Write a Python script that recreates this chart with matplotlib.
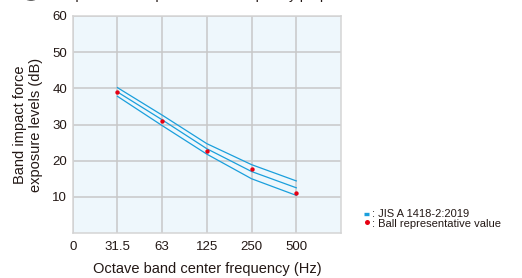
import matplotlib
matplotlib.use('Agg')
import matplotlib.pyplot as plt
from matplotlib.lines import Line2D
from matplotlib.patches import Circle

plt.rcParams['font.family'] = ['Liberation Sans', 'DejaVu Sans']

# data
freq_labels = ['31.5', '63', '125', '250', '500']
jis_upper = [40.2, 32.6, 24.7, 18.9, 14.4]
jis_middle = [39.0, 31.3, 23.3, 17.0, 12.5]
jis_lower = [37.8, 29.7, 21.8, 15.0, 10.4]
ball_values = [39.0, 31.0, 22.8, 17.7, 11.0]
legend_labels = [': JIS A 1418-2:2019', ': Ball representative value']

blue = '#1a9fdc'
red = '#e60012'
grey = '#c8c8c8'
txt = '#231815'

W, H = 522, 278
fig = plt.figure(figsize=(W / 100, H / 100), dpi=100)
ax = fig.add_axes([72.7 / W, 45 / H, 268.3 / W, 217 / H])
ax.set_facecolor('#eef7fc')

x = list(range(1, len(freq_labels) + 1))
for series in (jis_upper, jis_middle, jis_lower):
    ax.plot(x, series, color=blue, lw=0.9, zorder=3)
ax.scatter(x, ball_values, s=10, color=red, zorder=4, linewidths=0)

ax.set_xlim(0, 6)
ax.set_ylim(0, 60)
ax.set_xticks([0] + x)
ax.set_xticklabels(['0'] + freq_labels)
ax.set_yticks([10, 20, 30, 40, 50, 60])
ax.tick_params(length=0, labelsize=9.5, colors=txt)
ax.tick_params(axis='x', pad=6)
ax.tick_params(axis='y', pad=4)
ax.grid(True, color=grey, lw=1.1)
ax.set_axisbelow(True)
for s in ax.spines.values():
    s.set_color('#d4d4d4')
    s.set_linewidth(1.1)

ax.set_xlabel('Octave band center frequency (Hz)', fontsize=10.5, color=txt, labelpad=6)
ax.set_ylabel('Band impact force\nexposure levels (dB)', fontsize=10.5, color=txt,
              labelpad=7, linespacing=1.15)

# heading, cut off by the top edge as in the source image
fig.text(60 / W, 1 + 1.5 / H, 'Impact force exposure level frequency properties',
         fontsize=10, color=txt, va='baseline', ha='left')
fig.add_artist(Circle((31 / W, 1 + 3.0 / H), 6.0 / W, transform=fig.transFigure,
                      color='#555555'))

# legend drawn by hand to keep the tight rows
fig.add_artist(Line2D([364 / W, 369 / W], [1 - 213.5 / H] * 2, color=blue, lw=2.4,
                      solid_capstyle='butt', transform=fig.transFigure))
fig.add_artist(Line2D([366.5 / W], [1 - 221.5 / H], color=red, lw=0, marker='o',
                      markersize=3.6, markeredgewidth=0, transform=fig.transFigure))
for i, lab in enumerate(legend_labels):
    fig.text(371.5 / W, 1 - (217.3 + 9.6 * i) / H, lab, fontsize=8, color=txt,
             va='baseline', ha='left')

fig.savefig('out.png', dpi=100)
